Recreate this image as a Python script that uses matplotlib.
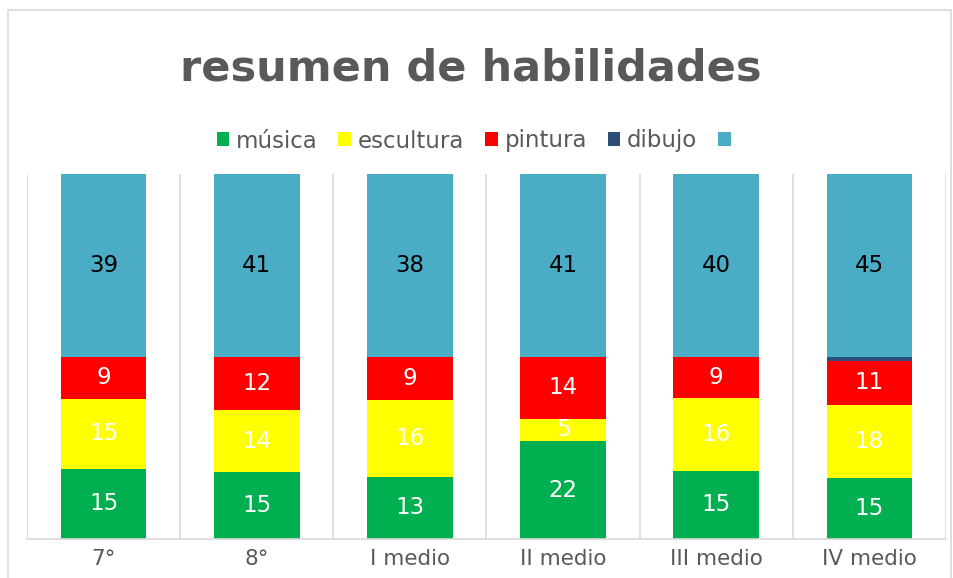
import matplotlib
matplotlib.use("Agg")
import matplotlib.pyplot as plt
import numpy as np
from matplotlib.patches import Rectangle, Patch

categories = ["7°", "8°", "I medio", "II medio", "III medio", "IV medio"]
musica = [15, 15, 13, 22, 15, 15]
escultura = [15, 14, 16, 5, 16, 18]
pintura = [9, 12, 9, 14, 9, 11]
dibujo = [0, 0, 0, 0, 0, 1]
otro = [39, 41, 38, 41, 40, 45]

series_names = ["música", "escultura", "pintura", "dibujo", ""]
series_values = [musica, escultura, pintura, dibujo, otro]
colors = ["#00B050", "#FFFF00", "#FF0000", "#2C4D75", "#4BACC6"]
label_colors = ["white", "white", "white", None, "black"]

fig = plt.figure(figsize=(9.54, 5.78), dpi=100)
ax = fig.add_axes([27/954, 39/578, (946-27)/954, 365/578])

data = np.array(series_values, dtype=float)
totals = data.sum(axis=0)
frac = data / totals
x = np.arange(len(categories))
bottom = np.zeros(len(categories))
for i, name in enumerate(series_names):
    ax.bar(x, frac[i], bottom=bottom, width=0.56, color=colors[i], linewidth=0, zorder=2)
    if label_colors[i] is not None:
        for j in range(len(categories)):
            if data[i, j] > 0:
                ax.text(x[j], bottom[j] + frac[i, j] / 2, f"{int(data[i, j])}",
                        ha="center", va="center", fontsize=16.5,
                        color=label_colors[i], zorder=3)
    bottom += frac[i]

ax.set_xlim(-0.5, len(categories) - 0.5)
ax.set_ylim(0, 1)
ax.set_yticks([])
ax.set_xticks(x)
ax.set_xticklabels(categories, fontsize=15.5, color="#595959")
ax.tick_params(axis="x", length=0, pad=7)
for b in np.arange(-0.5, len(categories), 1.0):
    ax.axvline(b, color="#D9D9D9", linewidth=1.2, zorder=1)
for s in ["top", "left", "right"]:
    ax.spines[s].set_visible(False)
ax.spines["bottom"].set_color("#D9D9D9")
ax.spines["bottom"].set_linewidth(1.2)

fig.text(0.493, 1 - 69/578, "resumen de habilidades", ha="center", va="center",
         fontsize=31, fontweight="bold", color="#595959")

handles = [Patch(facecolor=c, edgecolor="none") for c in colors]
fig.legend(handles, series_names, loc="center", bbox_to_anchor=(0.5, 1 - 141/578),
           ncol=5, frameon=False, fontsize=16.5, handlelength=0.55, handleheight=0.55,
           handletextpad=0.3, columnspacing=0.9, labelcolor="#595959")

fig.patches.append(Rectangle((8/954, -0.02), (951-8)/954, 1 - 10/578 + 0.02,
                             transform=fig.transFigure, fill=False,
                             edgecolor="#D9D9D9", linewidth=1.2))

fig.savefig("out.png", dpi=100)
